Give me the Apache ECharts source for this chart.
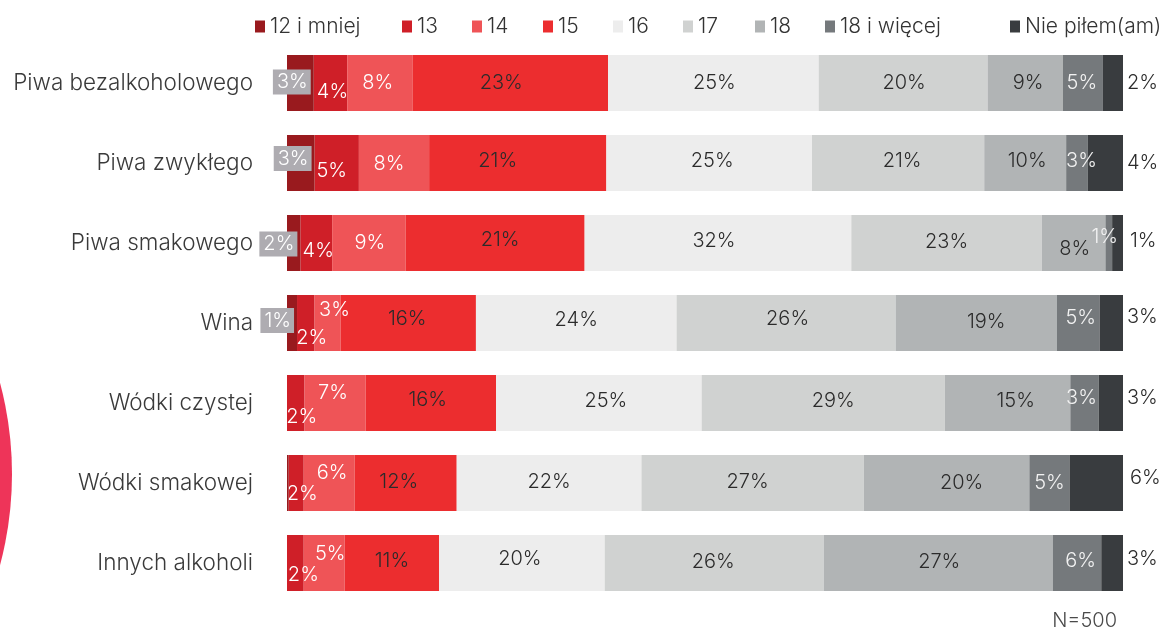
<!DOCTYPE html>
<html>
<head>
<meta charset="utf-8">
<script src="https://cdn.jsdelivr.net/npm/echarts@6/dist/echarts.min.js"></script>
<style>
html,body{margin:0;padding:0;background:#fff;}
#chart{width:1171px;height:632px;}
</style>
</head>
<body>
<div id="chart"></div>
<script>
// ---- data ----
const categories = ['Piwa bezalkoholowego', 'Piwa zwykłego', 'Piwa smakowego', 'Wina', 'Wódki czystej', 'Wódki smakowej', 'Innych alkoholi'];
const seriesNames = ['12 i mniej', '13', '14', '15', '16', '17', '18', '18 i więcej', 'Nie piłem(am)'];
const v12   = [3.2, 3.3, 1.6, 1.2, 0,    0.2,  0];
const v13   = [4.0, 5.3, 3.8, 2.1, 2.1,  1.8,  2.0];
const v14   = [7.8, 8.4, 8.8, 3.1, 7.3,  6.1,  4.9];
const v15   = [23.4, 21.2, 21.4, 16.2, 15.6, 12.2, 11.3];
const v16   = [25.2, 24.6, 31.9, 24.0, 24.6, 22.1, 19.8];
const v17   = [20.2, 20.6, 22.8, 26.2, 29.1, 26.6, 26.2];
const v18   = [9.0, 9.8, 7.6, 19.3, 15.0, 19.8, 27.4];
const v18p  = [4.8, 2.6, 0.8, 5.1, 3.4, 4.8, 5.8];
const vNie  = [2.4, 4.2, 1.3, 2.8, 2.9, 6.4, 2.6];
const sampleNote = 'N=500';

// ---- styles ----
const FONT = 'Inter';
const colors = ['#991A1E', '#CF1F28', '#EF5457', '#EC2D2F', '#EDEDED', '#D0D2D1', '#B1B4B5', '#75797C', '#393C3F'];
const labelColors = ['#ffffff', '#ffffff', '#ffffff', '#2b2b2b', '#2b2b2b', '#2b2b2b', '#2b2b2b', '#f2f2f2', '#2b2b2b'];
const legendLefts = [250, 397, 467, 538, 608, 678, 750, 820, 1005];
const labelOffsets = [
  [[0,-1],[0,-4.5],[0,1],[0,-2.5],[0,0],[0,0],[0,0]],
  [[2,9],[-5,8],[2,8],[6,15],[6,14],[6,11],[8,12]],
  [[-2,0],[-5,1],[1,0],[7,-13],[-2,-10.5],[3,-10.5],[6,-9]],
  [[-9,0],[-20,-2],[5,-3],[-1,-4],[-3,-3.5],[-7,-1.5],[0,-2]],
  [[1,0],[3,-2],[-4,-2],[0,-3],[7,-2],[0,-1],[-2,-4]],
  [[1,0],[4,-2],[0,-1.5],[1.5,-4],[10,-2],[-5,-1],[-1,-1]],
  [[3,0],[2,-2],[1,6],[10,-1],[8,-2],[15,-0.5],[1,-1]],
  [[-1,0],[4.5,-2.5],[-4,-6],[2.5,-5],[-3,-5.5],[0,0],[3.5,-2]],
  [[0,0],[0,0],[3,-2.5],[0,-6],[0,-5],[3,-4.7],[0,-3.7]]
];
const values = [v12, v13, v14, v15, v16, v17, v18, v18p, vNie];

const series = seriesNames.map((name, si) => {
  const base = {
    show: true,
    color: labelColors[si],
    fontFamily: FONT,
    fontWeight: 300,
    fontSize: 20,
    formatter: p => Math.round(p.value) + '%'
  };
  if (si === 0) {
    Object.assign(base, {
      position: 'insideRight', distance: 3,
      backgroundColor: '#AEACB1', padding: [3, 3, 2, 4]
    });
  } else if (si === 8) {
    Object.assign(base, { position: 'right', distance: 4 });
  } else {
    base.position = 'inside';
  }
  return {
    name,
    type: 'bar',
    stack: 'total',
    barWidth: 56,
    itemStyle: { color: colors[si] },
    label: base,
    labelLayout: p => ({
      hideOverlap: false,
      dx: labelOffsets[si][p.dataIndex][0],
      dy: labelOffsets[si][p.dataIndex][1]
    }),
    z: si === 0 ? 3 : 2,
    data: values[si].map(v => ({
      value: v,
      label: { show: Math.round(v) > 0 }
    }))
  };
});

const legends = seriesNames.map((name, i) => ({
  data: [name],
  left: legendLefts[i], top: 11,
  icon: 'rect', itemWidth: 10, itemHeight: 12,
  textStyle: { fontFamily: FONT, fontWeight: 300, fontSize: 21, color: '#333333', lineHeight: 20 },
  selectedMode: false
}));

const chart = echarts.init(document.getElementById('chart'), null, { renderer: 'canvas' });
chart.setOption({
  animation: false,
  backgroundColor: '#ffffff',
  textStyle: { fontFamily: FONT },
  grid: { left: 287, right: 48, top: 43, bottom: 29, containLabel: false },
  legend: legends,
  xAxis: {
    type: 'value', min: 0, max: 100, show: false
  },
  yAxis: {
    type: 'category', data: categories, inverse: true,
    axisLine: { show: false }, axisTick: { show: false },
    axisLabel: { fontFamily: FONT, fontWeight: 300, fontSize: 22.5, color: '#3a3a3a', margin: 34 }
  },
  graphic: [
    { type: 'circle', shape: { cx: -340, cy: 474, r: 352 }, style: { fill: '#EE3459' }, z: -1 },
    { type: 'text', right: 54, top: 611, style: { text: sampleNote, fontFamily: FONT, fontWeight: 300, fontSize: 20, fill: '#4a4a4a' } }
  ],
  series
});
</script>
</body>
</html>
